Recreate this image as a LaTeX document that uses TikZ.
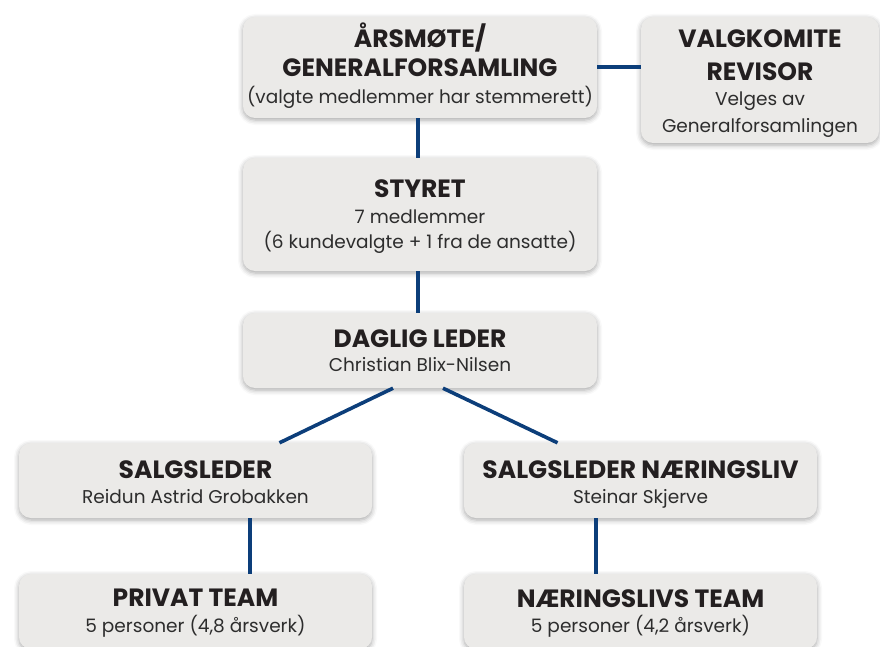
\documentclass[tikz,border=0pt]{standalone}
\usepackage{fontspec}
\setmainfont{Poppins}
\usetikzlibrary{shadows.blur}
\definecolor{boxfill}{RGB}{235,234,232}
\definecolor{linkblue}{RGB}{12,62,122}
\definecolor{titletext}{RGB}{35,31,32}
\definecolor{bodytext}{RGB}{45,45,45}
\newcommand{\ttl}[1]{{\color{titletext}\fontsize{25}{26}\selectfont\bfseries #1}}
\newcommand{\bdy}[1]{{\color{bodytext}\fontsize{18.5}{26}\selectfont #1}}
\newcommand{\hstr}[1]{\rule{0pt}{#1}}
\newcommand{\dstr}[1]{\rule[-#1]{0pt}{#1}}
\begin{document}
\begin{tikzpicture}[x=1pt,y=-1pt,
  orgbox/.style={rectangle, rounded corners=12pt, fill=boxfill, draw=none,
    blur shadow={shadow xshift=0pt, shadow yshift=-2pt, shadow blur radius=5pt, shadow opacity=35},
    align=center, inner sep=0pt, font=\fontsize{18.5}{26}\selectfont},
  link/.style={draw=linkblue, line width=3.6pt}]
\useasboundingbox (0,0) rectangle (880,647);
\node[orgbox, minimum width=354pt, minimum height=101pt] (b1) at (420,67.5)
  {\hstr{24.3pt}\ttl{ÅRSMØTE/}\\[3.4pt]\ttl{GENERALFORSAMLING}\\[0.3pt]\bdy{(valgte medlemmer har stemmerett)}\dstr{9pt}};
\node[orgbox, minimum width=238pt, minimum height=126pt] (b2) at (760,80)
  {\hstr{25pt}\ttl{VALGKOMITE}\\[7pt]\ttl{REVISOR}\\[-1pt]\bdy{Velges av}\\[1pt]\bdy{Generalforsamlingen}\dstr{5.4pt}};
\node[orgbox, minimum width=354pt, minimum height=113pt] (b3) at (420,214.5)
  {\hstr{22pt}\ttl{STYRET}\\[0pt]\bdy{7 medlemmer}\\[-1pt]\bdy{(6 kundevalgte + 1 fra de ansatte)}\dstr{6pt}};
\node[orgbox, minimum width=354pt, minimum height=75pt] (b4) at (420,350.5)
  {\hstr{23pt}\ttl{DAGLIG LEDER}\\[-1.6pt]\bdy{Christian Blix-Nilsen}\dstr{5pt}};
\node[orgbox, minimum width=353pt, minimum height=75pt] (b5) at (195.5,480.5)
  {\hstr{25.6pt}\ttl{SALGSLEDER}\\[-1pt]\bdy{Reidun Astrid Grobakken}\dstr{5pt}};
\node[orgbox, minimum width=353pt, minimum height=75pt] (b6) at (640.5,480.5)
  {\hstr{25.6pt}\ttl{SALGSLEDER NÆRINGSLIV}\\[-1pt]\bdy{Steinar Skjerve}\dstr{5pt}};
\node[orgbox, minimum width=353pt, minimum height=75pt] (b7) at (195.5,611.5)
  {\hstr{21.4pt}\ttl{PRIVAT TEAM}\\[0pt]\bdy{5 personer (4,8 årsverk)}\dstr{5pt}};
\node[orgbox, minimum width=353pt, minimum height=75pt] (b8) at (640.5,611.5)
  {\hstr{21.4pt}\ttl{NÆRINGSLIVS TEAM}\\[-1pt]\bdy{5 personer (4,2 årsverk)}\dstr{5pt}};
\draw[link] (b1.east |- 0,67) -- (b2.west |- 0,67);
\draw[link] ([xshift=-2pt]b1.south) -- ([xshift=-2pt]b3.north);
\draw[link] ([xshift=-2pt]b3.south) -- ([xshift=-2pt]b4.north);
\draw[link] ([xshift=-27pt]b4.south) -- ([xshift=84pt]b5.north);
\draw[link] ([xshift=23pt]b4.south) -- ([xshift=-83pt]b6.north);
\draw[link] ([xshift=54.5pt]b5.south) -- ([xshift=54.5pt]b7.north);
\draw[link] ([xshift=-44.5pt]b6.south) -- ([xshift=-44.5pt]b8.north);
\end{tikzpicture}
\end{document}
